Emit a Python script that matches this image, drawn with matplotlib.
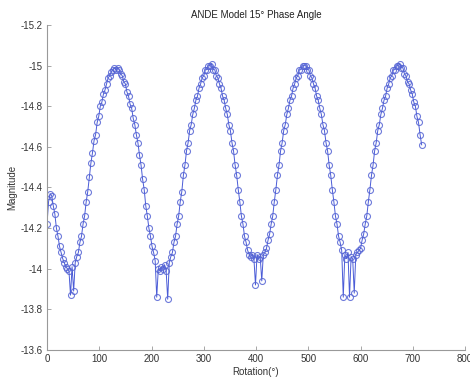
import matplotlib
matplotlib.use('Agg')
import matplotlib.pyplot as plt
from matplotlib.ticker import FuncFormatter

plt.rcParams['font.family'] = ['Liberation Sans', 'DejaVu Sans']

# rotation angle sampled every 3 degrees
rotation = list(range(0, 720, 3))

# magnitude (10 values per row)
magnitude = [
    -14.22, -14.33, -14.37, -14.36, -14.31, -14.27, -14.20, -14.16, -14.11, -14.08,
    -14.05, -14.03, -14.01, -14.00, -13.99, -13.87, -14.01, -13.89, -14.03, -14.06,
    -14.08, -14.13, -14.16, -14.22, -14.26, -14.33, -14.38, -14.45, -14.52, -14.57,
    -14.63, -14.66, -14.72, -14.75, -14.80, -14.82, -14.86, -14.88, -14.91, -14.94,
    -14.95, -14.97, -14.98, -14.99, -14.98, -14.99, -14.98, -14.96, -14.95, -14.92,
    -14.91, -14.87, -14.85, -14.81, -14.79, -14.74, -14.71, -14.66, -14.62, -14.56,
    -14.51, -14.44, -14.39, -14.31, -14.26, -14.20, -14.16, -14.11, -14.08, -14.04,
    -13.86, -14.00, -13.99, -14.01, -14.00, -14.02, -13.99, -13.85, -14.03, -14.06,
    -14.08, -14.13, -14.16, -14.22, -14.26, -14.33, -14.38, -14.46, -14.51, -14.58,
    -14.62, -14.68, -14.71, -14.76, -14.79, -14.83, -14.85, -14.89, -14.91, -14.94,
    -14.95, -14.98, -14.98, -15.00, -15.00, -15.01, -14.98, -14.98, -14.95, -14.94,
    -14.91, -14.89, -14.85, -14.83, -14.79, -14.76, -14.71, -14.68, -14.62, -14.58,
    -14.51, -14.46, -14.39, -14.33, -14.26, -14.22, -14.16, -14.13, -14.09, -14.07,
    -14.06, -14.07, -14.05, -13.92, -14.07, -14.05, -14.06, -13.94, -14.07, -14.08,
    -14.10, -14.14, -14.17, -14.22, -14.26, -14.33, -14.39, -14.46, -14.51, -14.58,
    -14.62, -14.68, -14.71, -14.76, -14.79, -14.83, -14.85, -14.89, -14.91, -14.94,
    -14.95, -14.98, -14.98, -15.00, -15.00, -15.00, -14.98, -14.98, -14.95, -14.94,
    -14.91, -14.89, -14.85, -14.83, -14.79, -14.76, -14.71, -14.68, -14.62, -14.58,
    -14.51, -14.46, -14.39, -14.33, -14.26, -14.22, -14.16, -14.13, -14.09, -13.86,
    -14.07, -14.05, -14.08, -13.86, -14.06, -14.05, -13.88, -14.07, -14.08, -14.09,
    -14.10, -14.14, -14.17, -14.22, -14.26, -14.33, -14.39, -14.46, -14.51, -14.58,
    -14.62, -14.68, -14.71, -14.76, -14.79, -14.83, -14.85, -14.89, -14.91, -14.94,
    -14.95, -14.98, -14.98, -15.00, -15.00, -15.01, -14.99, -14.99, -14.96, -14.95,
    -14.92, -14.91, -14.88, -14.86, -14.82, -14.80, -14.75, -14.72, -14.66, -14.61,
]

x_ticks = [0, 100, 200, 300, 400, 500, 600, 700, 800]
y_ticks = [-15.2, -15, -14.8, -14.6, -14.4, -14.2, -14, -13.8, -13.6]

fig = plt.figure(figsize=(4.7, 3.81), dpi=100)
ax = fig.add_axes([0.1, 0.0814, 0.8894, 0.853])

ax.plot(rotation, magnitude, color='#2b3fd0', lw=0.7, alpha=0.85,
        marker='o', ms=4.3, mfc='none', mec='#5564d4', mew=0.8)

ax.set_xlim(0, 800)
ax.set_ylim(-13.6, -15.2)
ax.set_xticks(x_ticks)
ax.set_yticks(y_ticks)
ax.yaxis.set_major_formatter(FuncFormatter(lambda v, p: f'{v:g}'))

for s in ['top', 'right']:
    ax.spines[s].set_visible(False)
for s in ['left', 'bottom']:
    ax.spines[s].set_color('#999999')
    ax.spines[s].set_linewidth(0.8)
ax.tick_params(direction='in', length=3, width=0.6, color='#999999',
               labelsize=7, labelcolor='#333333', pad=3)

ax.set_title('ANDE Model 15° Phase Angle', fontsize=7, color='#222222', pad=5)
ax.set_xlabel('Rotation(°)', fontsize=7, color='#333333')
ax.set_ylabel('Magnitude', fontsize=7, color='#333333')
ax.xaxis.set_label_coords(0.5, -0.052)
ax.yaxis.set_label_coords(-0.07, 0.5)

fig.savefig('out.png', dpi=100)
